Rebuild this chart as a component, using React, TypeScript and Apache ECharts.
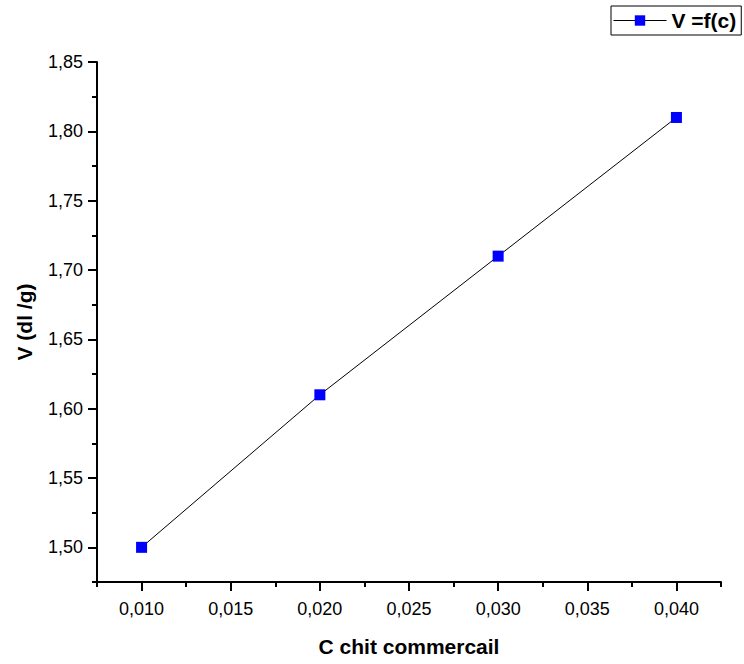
import React, { useEffect, useRef } from "react";
import * as echarts from "echarts";

const xValues = [0.01, 0.02, 0.03, 0.04];
const yValues = [1.5, 1.61, 1.71, 1.81];
const xMajorTicks = [0.01, 0.015, 0.02, 0.025, 0.03, 0.035, 0.04];
const xMinorTicks = [0.0075, 0.0125, 0.0175, 0.0225, 0.0275, 0.0325, 0.0375, 0.0425];
const yMajorTicks = [1.5, 1.55, 1.6, 1.65, 1.7, 1.75, 1.8, 1.85];
const yMinorTicks = [1.475, 1.525, 1.575, 1.625, 1.675, 1.725, 1.775, 1.825];
const seriesName = "V =f(c)";
const xName = "C chit commercail";
const yName = "V (dl /g)";

const FONT = "'Liberation Sans', Arial, sans-serif";

export default function App() {
  const ref = useRef<HTMLDivElement>(null);
  useEffect(() => {
    document.body.style.margin = "0";
    const chart = echarts.init(ref.current!, null, { renderer: "svg" });
    const axisLine = { show: true, lineStyle: { color: "#000", width: 2 } };
    const fmt = (d: number) => (v: number) => v.toFixed(d).replace(".", ",");
    chart.setOption({
      animation: false,
      backgroundColor: "#fff",
      textStyle: { fontFamily: FONT },
      grid: { left: 97, top: 62, right: 23, bottom: 82, containLabel: false },
      legend: {
        left: 611,
        top: 6,
        padding: [4, 5, 4, 2],
        borderColor: "#000",
        borderWidth: 1,
        itemWidth: 53,
        itemHeight: 13,
        lineStyle: { width: 1, color: "#000" },
        textStyle: { fontSize: 21, fontWeight: "bold", color: "#000", fontFamily: FONT },
        data: [seriesName],
      },
      xAxis: [
        {
          type: "value",
          min: 0.0075,
          max: 0.0425,
          name: xName,
          nameLocation: "middle",
          nameGap: 54,
          nameTextStyle: { fontSize: 21, fontWeight: "bold", color: "#000", fontFamily: FONT },
          axisLine,
          splitLine: { show: false },
          axisTick: { show: true, length: 9, customValues: xMajorTicks, lineStyle: { color: "#000", width: 2 } },
          axisLabel: { customValues: xMajorTicks, formatter: fmt(3), fontSize: 18, color: "#000", margin: 18, fontFamily: FONT },
        },
        {
          type: "value",
          position: "bottom",
          min: 0.0075,
          max: 0.0425,
          axisLine: { show: false },
          splitLine: { show: false },
          axisTick: { show: true, length: 5, customValues: xMinorTicks, lineStyle: { color: "#000", width: 2 } },
          axisLabel: { show: false, customValues: xMinorTicks },
        },
      ],
      yAxis: [
        {
          type: "value",
          min: 1.475,
          max: 1.85,
          name: yName,
          nameLocation: "middle",
          nameGap: 62,
          nameTextStyle: { fontSize: 21, fontWeight: "bold", color: "#000", fontFamily: FONT },
          axisLine,
          splitLine: { show: false },
          axisTick: { show: true, length: 9, customValues: yMajorTicks, lineStyle: { color: "#000", width: 2 } },
          axisLabel: { customValues: yMajorTicks, formatter: fmt(2), fontSize: 18, color: "#000", margin: 14, fontFamily: FONT },
        },
        {
          type: "value",
          position: "left",
          min: 1.475,
          max: 1.85,
          axisLine: { show: false },
          splitLine: { show: false },
          axisTick: { show: true, length: 5, customValues: yMinorTicks, lineStyle: { color: "#000", width: 2 } },
          axisLabel: { show: false, customValues: yMinorTicks },
        },
      ],
      series: [
        {
          name: seriesName,
          type: "line",
          xAxisIndex: 0,
          yAxisIndex: 0,
          data: xValues.map((x, i) => [x, yValues[i]]),
          symbol: "rect",
          symbolSize: 11,
          lineStyle: { color: "#000", width: 1 },
          itemStyle: { color: "#0000ff" },
        },
      ],
    });
    return () => chart.dispose();
  }, []);
  return <div ref={ref} style={{ position: "absolute", left: 0, top: 0, width: 744, height: 664 }} />;
}
